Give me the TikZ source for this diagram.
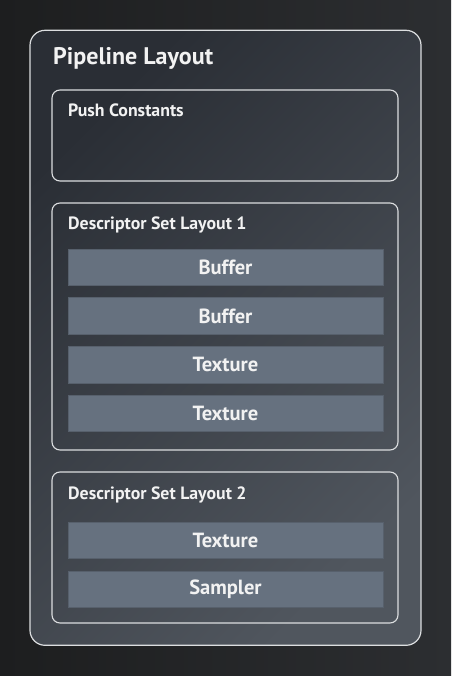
\documentclass[tikz,border=0pt]{standalone}
\usepackage{fontspec}
\setmainfont{PT Sans}
\usetikzlibrary{positioning}

\definecolor{bgleft}{HTML}{1D1E1F}
\definecolor{bgright}{HTML}{2C2E31}
\definecolor{layouttop}{HTML}{2A2E35}
\definecolor{layoutbottom}{HTML}{50565E}
\definecolor{framegray}{HTML}{DCDEE0}
\definecolor{itemfill}{HTML}{66717F}
\definecolor{itemedge}{HTML}{57606C}
\definecolor{textwhite}{HTML}{F2F2F2}

\begin{document}
\begin{tikzpicture}[x=1pt,y=-1pt,node distance=48.7pt,
    layout box/.style={draw=framegray,line width=1.2pt,rounded corners=15pt,
        minimum width=391pt,minimum height=615pt,inner sep=0pt,
        left color=layouttop,right color=layoutbottom,shading angle=45},
    set box/.style={draw=framegray,line width=1.1pt,rounded corners=8pt,
        minimum width=346pt,inner sep=0pt},
    set title/.style={anchor=base west,inner sep=0pt,text=textwhite,
        font=\bfseries\fontsize{17.8}{20}\selectfont},
    item node/.style={fill=itemfill,draw=itemedge,line width=0.8pt,
        minimum width=315pt,minimum height=36.5pt,inner sep=0pt,text=textwhite,
        font=\bfseries\fontsize{20.5}{23}\selectfont}]
    \useasboundingbox[left color=bgleft,right color=bgright] (0,0) rectangle (451,676);

    \node[layout box] (layout) at (225.5,337.8) {};
    \node[anchor=base west,inner sep=0pt,text=textwhite,
        font=\bfseries\fontsize{24}{27}\selectfont] (layouttitle) at (53,65) {Pipeline Layout};

    % push constants
    \node[set box,minimum height=91pt] (push) at (225,135.5) {};
    \node[set title] (pushtitle) at (68,116.5) {Push Constants};

    % first descriptor set
    \node[set box,minimum height=247pt] (set1) at (225,326.5) {};
    \node[set title] (set1title) at (68,229) {Descriptor Set Layout 1};
    \node[item node] (buffer1) at (225.5,267.3) {Buffer};
    \node[item node] (buffer2) [below of=buffer1] {Buffer};
    \node[item node] (texture1) [below of=buffer2] {Texture};
    \node[item node] (texture2) [below of=texture1] {Texture};

    % second descriptor set
    \node[set box,minimum height=151pt] (set2) at (225,547.5) {};
    \node[set title] (set2title) at (68,499) {Descriptor Set Layout 2};
    \node[item node] (texture3) at (225.5,540.5) {Texture};
    \node[item node] (sampler) [below of=texture3] {Sampler};
\end{tikzpicture}
\end{document}
